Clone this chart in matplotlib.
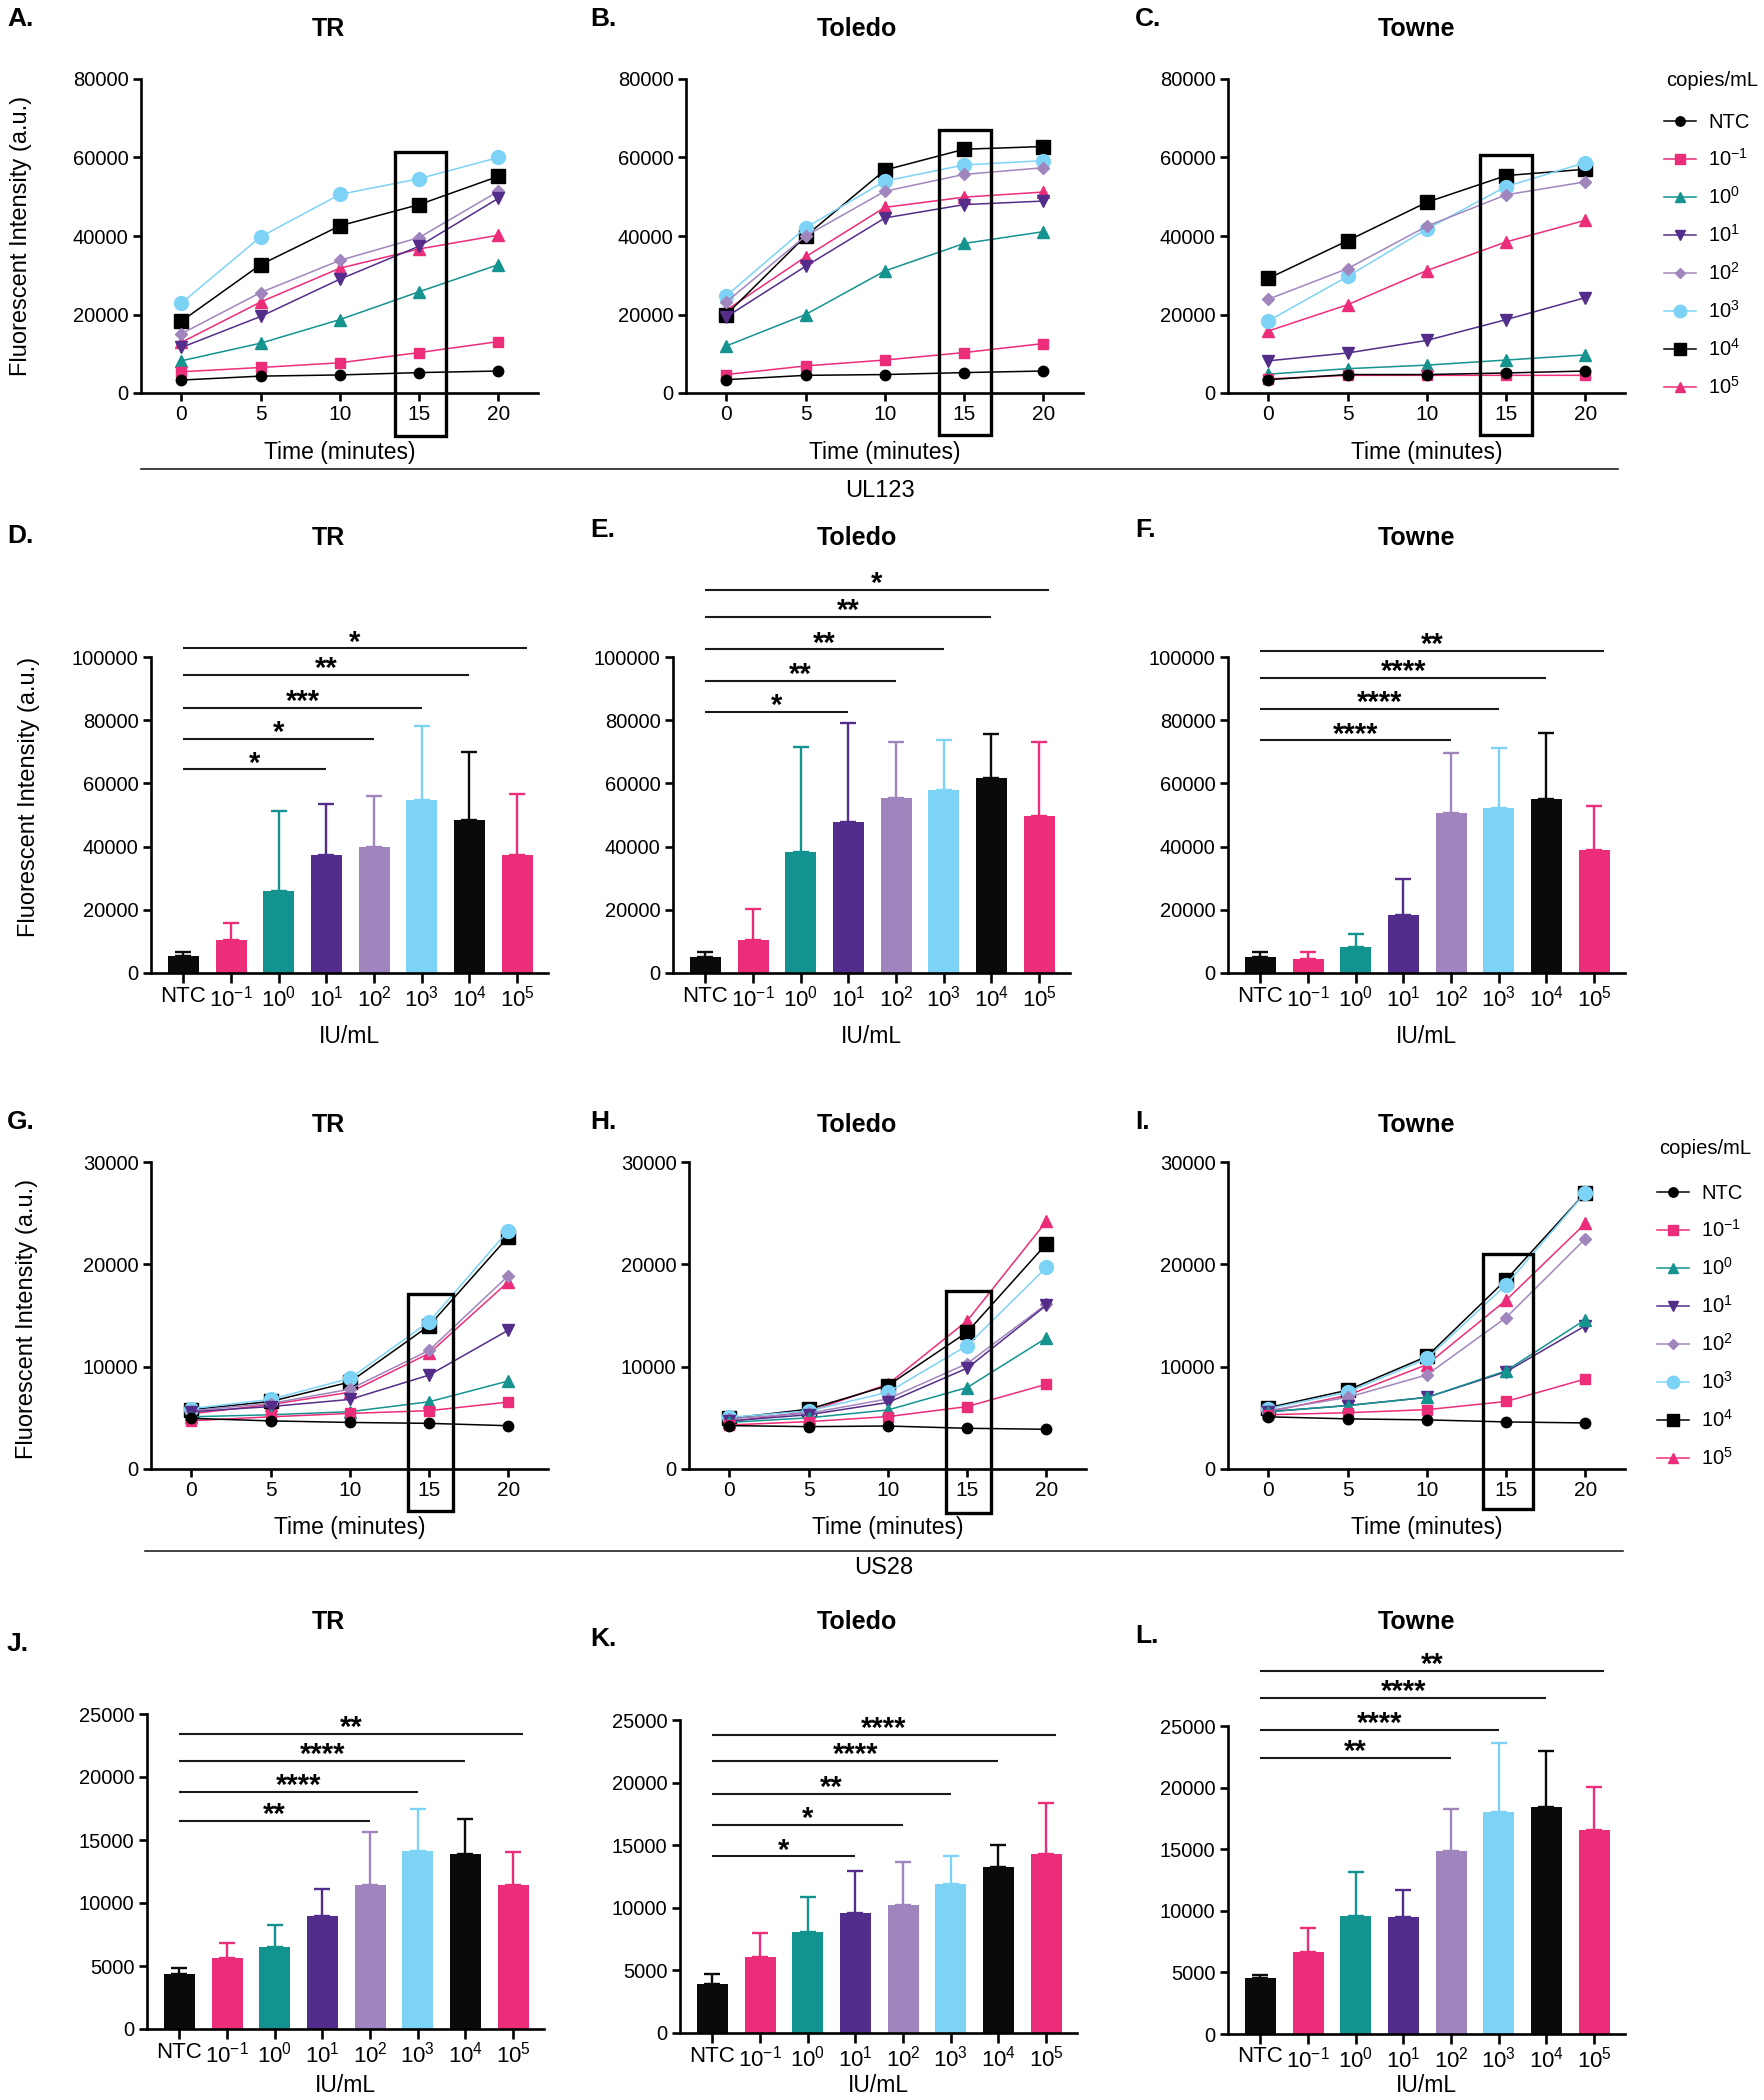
import matplotlib
matplotlib.use("Agg")
import numpy as np
import matplotlib.pyplot as plt
from matplotlib.lines import Line2D
from matplotlib.patches import Rectangle
from matplotlib.transforms import offset_copy

plt.rcParams['font.family'] = ['Liberation Sans', 'DejaVu Sans']
plt.rcParams['mathtext.fontset'] = 'custom'
plt.rcParams['mathtext.rm'] = 'Liberation Sans'
plt.rcParams['mathtext.it'] = 'Liberation Sans:italic'
plt.rcParams['mathtext.bf'] = 'Liberation Sans:bold'

# ------------------------------------------------------------------ data
time_min = [0, 5, 10, 15, 20]
group_labels = ['NTC', r'$\mathregular{10^{-1}}$', r'$\mathregular{10^{0}}$',
                r'$\mathregular{10^{1}}$', r'$\mathregular{10^{2}}$',
                r'$\mathregular{10^{3}}$', r'$\mathregular{10^{4}}$',
                r'$\mathregular{10^{5}}$']
strains = ['TR', 'Toledo', 'Towne']

# UL123 time courses (rows: NTC, 1e-1 ... 1e5 ; columns: 0,5,10,15,20 min)
ul123_tr = [
    [3300, 4300, 4600, 5200, 5600],
    [5400, 6500, 7700, 10300, 13100],
    [8200, 12700, 18700, 25800, 32700],
    [11600, 19500, 29000, 37400, 49600],
    [15100, 25600, 33800, 39600, 51400],
    [22900, 39800, 50600, 54600, 60000],
    [18300, 32700, 42600, 48000, 55200],
    [12900, 23200, 31800, 36700, 40200],
]
ul123_toledo = [
    [3400, 4500, 4700, 5200, 5600],
    [4700, 6900, 8400, 10300, 12600],
    [12000, 20000, 31100, 38100, 41100],
    [19400, 32300, 44600, 48000, 48900],
    [23200, 40000, 51400, 55700, 57400],
    [24800, 42100, 54000, 58100, 59200],
    [20000, 40000, 56800, 62100, 62800],
    [21100, 34700, 47300, 49900, 51200],
]
ul123_towne = [
    [3400, 4700, 4700, 5100, 5600],
    [3600, 4500, 4500, 4500, 4500],
    [4800, 6200, 7100, 8400, 9700],
    [8200, 10200, 13400, 18700, 24300],
    [23900, 31700, 42500, 50500, 53800],
    [18400, 29700, 41800, 52600, 58700],
    [29200, 38800, 48600, 55400, 57000],
    [15800, 22500, 31200, 38500, 44000],
]
# US28 time courses
us28_tr = [
    [4950, 4700, 4550, 4460, 4230],
    [4720, 5100, 5430, 5700, 6540],
    [5100, 5300, 5600, 6570, 8600],
    [5600, 6100, 6800, 9180, 13570],
    [5700, 6400, 7800, 11600, 18900],
    [5900, 6800, 8850, 14400, 23300],
    [5800, 6600, 8500, 14000, 22700],
    [5400, 6300, 7500, 11300, 18300],
]
us28_toledo = [
    [4240, 4140, 4200, 3980, 3880],
    [4300, 4630, 5120, 6100, 8280],
    [4560, 5000, 5770, 7960, 12800],
    [4700, 5300, 6500, 9850, 16000],
    [4900, 5450, 6850, 10300, 16100],
    [5050, 5670, 7500, 12060, 19700],
    [4950, 5840, 8150, 13370, 22000],
    [4630, 5600, 8280, 14480, 24200],
]
us28_towne = [
    [5100, 4900, 4800, 4600, 4500],
    [5300, 5500, 5800, 6600, 8800],
    [5600, 6200, 7000, 9600, 14600],
    [5600, 6200, 7000, 9500, 14000],
    [5700, 7000, 9200, 14800, 22500],
    [5900, 7500, 10800, 18000, 27000],
    [6000, 7700, 11000, 18500, 27000],
    [5600, 7200, 10200, 16500, 24000],
]

# 15-minute endpoint bars: mean and mean+SD
ul123_tr_mean = [5400, 10500, 26100, 37500, 40000, 54900, 48300, 37400]
ul123_tr_upper = [6500, 15800, 51400, 53400, 55900, 78100, 69900, 56700]
ul123_toledo_mean = [5000, 10300, 38400, 47900, 55500, 57800, 61800, 49800]
ul123_toledo_upper = [6500, 20200, 71500, 79100, 73100, 73800, 75500, 73100]
ul123_towne_mean = [5100, 4300, 8200, 18200, 50500, 52200, 55000, 38800]
ul123_towne_upper = [6500, 6500, 12500, 29900, 69600, 71300, 76100, 53000]
us28_tr_mean = [4380, 5630, 6500, 8940, 11460, 14120, 13880, 11460]
us28_tr_upper = [4860, 6820, 8230, 11090, 15600, 17440, 16640, 14070]
us28_toledo_mean = [3880, 6080, 8030, 9610, 10220, 11940, 13280, 14320]
us28_toledo_upper = [4680, 8000, 10900, 12960, 13620, 14100, 14990, 18390]
us28_towne_mean = [4550, 6640, 9560, 9480, 14840, 18010, 18450, 16550]
us28_towne_upper = [4820, 8610, 13140, 11670, 18280, 23650, 22970, 20070]

# significance comparisons vs NTC (target group index, stars)
sig_ul123_tr_targets = [3, 4, 5, 6, 7]
sig_ul123_tr_stars = ['*', '*', '***', '**', '*']
sig_ul123_toledo_targets = [3, 4, 5, 6, 7]
sig_ul123_toledo_stars = ['*', '**', '**', '**', '*']
sig_ul123_towne_targets = [4, 5, 6, 7]
sig_ul123_towne_stars = ['****', '****', '****', '**']
sig_us28_tr_targets = [4, 5, 6, 7]
sig_us28_tr_stars = ['**', '****', '****', '**']
sig_us28_toledo_targets = [3, 4, 5, 6, 7]
sig_us28_toledo_stars = ['*', '*', '**', '****', '****']
sig_us28_towne_targets = [4, 5, 6, 7]
sig_us28_towne_stars = ['**', '****', '****', '**']

# ------------------------------------------------------------------ styles / layout
W, H = 1765, 2100
line_colors = ['#000000', '#EC2D7A', '#14938F', '#542D8B', '#A186BE',
               '#7DD3F6', '#000000', '#EC2D7A']
bar_colors = ['#0A0A0A', '#EC2D7A', '#12938F', '#532D8C', '#A084BD',
              '#7DD3F5', '#0A0A0A', '#EC2D7A']
markers = ['o', 's', '^', 'v', 'D', 'o', 's', '^']
msizes = [7.5, 7.5, 8, 8, 6, 10, 10, 8.5]

# bracket heights (data units) for each bar panel
sig_ul123_tr_h = [64400, 74000, 84000, 94200, 102700]
sig_ul123_toledo_h = [82500, 92500, 102400, 112700, 121200]
sig_ul123_towne_h = [73600, 83600, 93500, 102000]
sig_us28_tr_h = [16500, 18800, 21300, 23400]
sig_us28_toledo_h = [14100, 16600, 19100, 21700, 23800]
sig_us28_towne_h = [22400, 24700, 27300, 29500]

fig = plt.figure(figsize=(W / 100, H / 100), dpi=100)


def add_ax(left, top, w, h):
    return fig.add_axes([left / W, 1 - (top + h) / H, w / W, h / H])


def base_style(ax):
    for s in ['top', 'right']:
        ax.spines[s].set_visible(False)
    for s in ['left', 'bottom']:
        ax.spines[s].set_linewidth(1.9)
    ax.tick_params(width=1.9, length=6, labelsize=14.5, direction='out', pad=3)


def line_panel(ax, data, ymax, yticks, box, label_y):
    base_style(ax)
    for i, row in enumerate(data):
        ax.plot(time_min, row, color=line_colors[i], marker=markers[i],
                ms=msizes[i], lw=1.1, mec=line_colors[i], clip_on=False,
                zorder=3 + (8 - i) * 0.1)
    ax.set_xlim(-2.55, 22.5)
    ax.set_ylim(0, ymax)
    ax.set_xticks(time_min)
    ax.set_yticks(yticks)
    ax.tick_params(axis='x', labelsize=15)
    ax.set_xlabel('Time (minutes)', fontsize=16.5)
    ax.xaxis.label.set_va('center')
    ax.xaxis.set_label_coords(0.5, label_y)
    ax.add_patch(Rectangle((box[0], box[2]), box[1] - box[0], box[3] - box[2],
                           fill=False, lw=2.4, ec='black', clip_on=False, zorder=6))


def bar_panel(ax, means, uppers, ymax, yticks, targets, heights, stars, label_y):
    base_style(ax)
    x = np.arange(len(means))
    ax.bar(x, means, width=0.65, color=bar_colors, edgecolor='none', zorder=2)
    for xi, m, u, c in zip(x, means, uppers, bar_colors):
        ax.errorbar(xi, m, yerr=[[0], [u - m]], fmt='none', ecolor=c,
                    elinewidth=1.7, capsize=5.5, capthick=1.7, zorder=1)
    tr = offset_copy(ax.transData, fig=fig, y=-1.5, units='points')
    for t, h, s in zip(targets, heights, stars):
        x1 = t + (0.2 if t == 7 else 0.0)
        ax.plot([0, x1], [h, h], color='#1a1a1a', lw=1.5, clip_on=False,
                solid_capstyle='butt')
        ax.text(x1 / 2, h, s, transform=tr, ha='center', va='baseline',
                fontsize=21, fontweight='bold', clip_on=False)
    ax.set_xlim(-0.68, 7.65)
    ax.set_ylim(0, ymax)
    ax.set_xticks(x)
    ax.set_xticklabels(group_labels, fontsize=16)
    ax.set_yticks(yticks)
    ax.tick_params(axis='x', length=7, pad=2)
    ax.set_xlabel('IU/mL', fontsize=16.5)
    ax.xaxis.label.set_va('center')
    ax.xaxis.set_label_coords(0.5, label_y)


PW = 397
# Row 1: UL123 kinetics
row1 = [(141, ul123_tr, (13.5, 16.7, -11000, 61500)),
        (686, ul123_toledo, (13.4, 16.68, -10800, 67100)),
        (1228, ul123_towne, (13.37, 16.64, -10700, 60700))]
for left, data, box in row1:
    ax = add_ax(left, 79, PW, 314)
    line_panel(ax, data, 80000, [0, 20000, 40000, 60000, 80000], box, -0.191)

# Row 2: UL123 endpoint bars
row2 = [(151, ul123_tr_mean, ul123_tr_upper, sig_ul123_tr_targets, sig_ul123_tr_h, sig_ul123_tr_stars),
        (673, ul123_toledo_mean, ul123_toledo_upper, sig_ul123_toledo_targets, sig_ul123_toledo_h, sig_ul123_toledo_stars),
        (1228, ul123_towne_mean, ul123_towne_upper, sig_ul123_towne_targets, sig_ul123_towne_h, sig_ul123_towne_stars)]
for left, m, u, t, h, s in row2:
    ax = add_ax(left, 657, PW, 316)
    bar_panel(ax, m, u, 100000, [0, 20000, 40000, 60000, 80000, 100000], t, h, s, -0.2)

# Row 3: US28 kinetics
row3 = [(151, us28_tr, (13.65, 16.5, -4070, 17100)),
        (689, us28_toledo, (13.66, 16.53, -4270, 17400)),
        (1228, us28_towne, (13.57, 16.69, -3900, 21000))]
for left, data, box in row3:
    ax = add_ax(left, 1162, PW, 307)
    line_panel(ax, data, 30000, [0, 10000, 20000, 30000], box, -0.192)

# Row 4: US28 endpoint bars
row4 = [(147, 1714, 315, us28_tr_mean, us28_tr_upper, sig_us28_tr_targets, sig_us28_tr_h, sig_us28_tr_stars),
        (680, 1720, 313, us28_toledo_mean, us28_toledo_upper, sig_us28_toledo_targets, sig_us28_toledo_h, sig_us28_toledo_stars),
        (1228, 1726, 308, us28_towne_mean, us28_towne_upper, sig_us28_towne_targets, sig_us28_towne_h, sig_us28_towne_stars)]
for left, top, hh, m, u, t, h, s in row4:
    ax = add_ax(left, top, PW, hh)
    bar_panel(ax, m, u, 25000, [0, 5000, 10000, 15000, 20000, 25000], t, h, s,
              -(2085 - top - hh) / hh)


def ftext(x, y, s, **kw):
    fig.text(x / W, 1 - y / H, s, **kw)


# Titles
title_x = [328, 857, 1417]
for ty in [29, 538, 1125, 1622]:
    for tx, name in zip(title_x, strains):
        ftext(tx, ty, name, ha='center', va='center', fontsize=18, fontweight='bold')

# Panel letters
letters = [('A.', 7, 19), ('B.', 590, 19), ('C.', 1135, 19),
           ('D.', 7, 536), ('E.', 590, 530), ('F.', 1135, 530),
           ('G.', 7, 1122), ('H.', 590, 1122), ('I.', 1135, 1122),
           ('J.', 7, 1644), ('K.', 590, 1639), ('L.', 1135, 1636)]
for s, lx, ly in letters:
    ftext(lx, ly, s, ha='left', va='center', fontsize=19, fontweight='bold')

# y labels
for yx, yy in [(21, 236), (29, 797), (27, 1319)]:
    ftext(yx, yy, 'Fluorescent Intensity (a.u.)', rotation=90, ha='center',
          va='center', fontsize=17)

# Dividers with gene names
for x0, x1, yy, name, nx, ny in [(141, 1618, 469, 'UL123', 880, 491),
                                 (145, 1623, 1551, 'US28', 884, 1568)]:
    fig.add_artist(Line2D([x0 / W, x1 / W], [1 - yy / H, 1 - yy / H],
                          transform=fig.transFigure, color='#222222', lw=1.2))
    ftext(nx, ny, name, ha='center', va='center', fontsize=17)

# Legends
handles = [Line2D([0], [0], color=line_colors[i], marker=markers[i],
                  ms=msizes[i] * 0.9, lw=1.1, mec=line_colors[i]) for i in range(8)]
for tx, ty, lx, ly in [(1666, 80, 1664, 113), (1659, 1149, 1657, 1184)]:
    ftext(tx, ty, 'copies/mL', ha='left', va='center', fontsize=14.5)
    fig.legend(handles, group_labels, loc='upper left',
               bbox_to_anchor=(lx / W, 1 - ly / H), frameon=False,
               fontsize=14.5, handlelength=1.6, handletextpad=0.6,
               labelspacing=0.8, borderpad=0, borderaxespad=0)

fig.savefig('out.png', dpi=100)
